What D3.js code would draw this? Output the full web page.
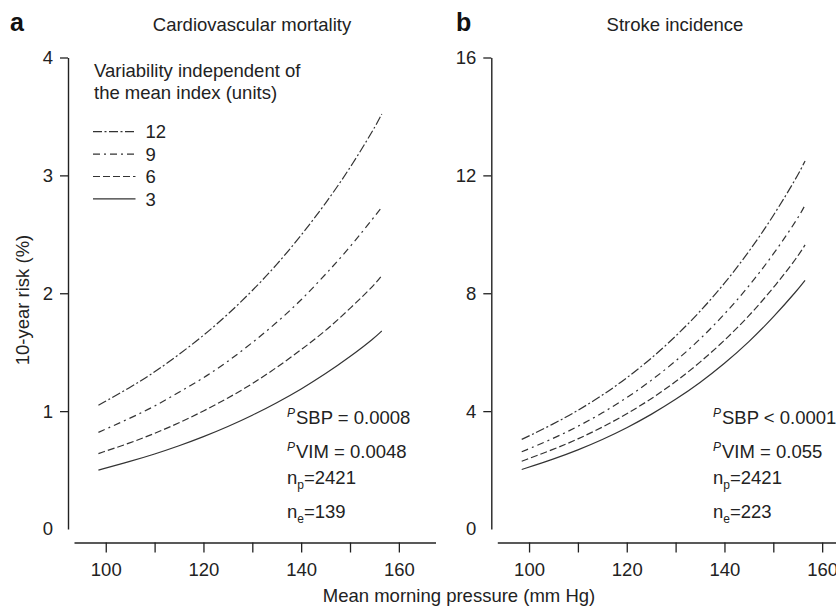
<!DOCTYPE html>
<html>
<head>
<meta charset="utf-8">
<script src="https://cdn.jsdelivr.net/npm/d3@7"></script>
<style>
  body { margin: 0; background: #fff; }
  svg { display: block; font-family: "Liberation Sans", Arial, sans-serif; }
</style>
</head>
<body>
<svg id="chart" width="836" height="607"></svg>
<script>
// mean morning pressure (mm Hg) where the curves were read
var pressure = [98.5, 105, 110, 115, 120, 125, 130, 135, 140, 145, 150, 155, 156.5];

// panel a: cardiovascular mortality, 10-year risk (%)
var cvd12 = [1.05, 1.20, 1.33, 1.48, 1.64, 1.82, 2.02, 2.24, 2.49, 2.76, 3.06, 3.40, 3.52];
var cvd9  = [0.82, 0.94, 1.04, 1.16, 1.28, 1.42, 1.58, 1.75, 1.94, 2.16, 2.39, 2.65, 2.73];
var cvd6  = [0.64, 0.73, 0.81, 0.90, 1.00, 1.11, 1.23, 1.37, 1.52, 1.68, 1.87, 2.07, 2.15];
var cvd3  = [0.50, 0.573, 0.635, 0.705, 0.782, 0.868, 0.963, 1.07, 1.186, 1.316, 1.46, 1.62, 1.68];

// panel b: stroke incidence, 10-year risk (%)
var str12 = [3.04, 3.56, 4.02, 4.53, 5.12, 5.78, 6.53, 7.37, 8.32, 9.40, 10.61, 11.99, 12.49];
var str9  = [2.62, 3.07, 3.48, 3.93, 4.45, 5.03, 5.69, 6.43, 7.28, 8.23, 9.31, 10.53, 10.99];
var str6  = [2.30, 2.70, 3.05, 3.45, 3.90, 4.41, 4.99, 5.65, 6.39, 7.22, 8.17, 9.24, 9.64];
var str3  = [2.02, 2.37, 2.68, 3.03, 3.43, 3.88, 4.39, 4.96, 5.61, 6.34, 7.18, 8.12, 8.44];

var vimLevels = ['12', '9', '6', '3'];
var xTicks = [100, 110, 120, 130, 140, 150, 160];
var xLabels = [100, 120, 140, 160];
var yTicksA = [0, 1, 2, 3, 4];
var yTicksB = [0, 4, 8, 12, 16];

var dashes = { '12': '9,2.5,2,2.5', '9': '7,4,2,4', '6': '7,3', '3': null };

var svg = d3.select('#chart');
var FS = 18.5;
var ink = '#222';

function panel(opt) {
  var x = d3.scaleLinear().domain([93.5, 167.5]).range([opt.x0, opt.x0 + 361.5]);
  var y = d3.scaleLinear().domain([0, opt.ymax]).range([529, 57.5]);
  var g = svg.append('g');

  // y axis
  var ya = g.append('g')
    .attr('transform', 'translate(' + opt.yx + ',0)')
    .call(d3.axisLeft(y).tickValues(opt.yticks).tickFormat(d3.format('d'))
      .tickSize(8).tickPadding(7).tickSizeOuter(0));
  ya.select('.domain').attr('stroke', ink).attr('stroke-width', 1.4);
  ya.selectAll('.tick line').attr('stroke', ink).attr('stroke-width', 1.3)
    .filter(function(d) { return d === 0; }).remove();
  ya.selectAll('.tick text').attr('font-size', FS).attr('fill', ink);

  // x axis
  var xa = g.append('g')
    .attr('transform', 'translate(0,542.5)')
    .call(d3.axisBottom(x).tickValues(xTicks).tickSize(10).tickPadding(10.5).tickSizeOuter(0)
      .tickFormat(function(d) { return xLabels.indexOf(d) >= 0 ? d : ''; }));
  xa.select('.domain').attr('stroke', ink).attr('stroke-width', 1.4);
  xa.selectAll('.tick line').attr('stroke', ink).attr('stroke-width', 1.3);
  xa.selectAll('.tick text').attr('font-size', FS).attr('fill', ink);

  ya.attr('font-family', null).attr('font-size', null);
  xa.attr('font-family', null).attr('font-size', null);

  // curves
  var line = d3.line()
    .x(function(d) { return x(d[0]); })
    .y(function(d) { return y(d[1]); })
    .curve(d3.curveBasis);

  g.selectAll('path.curve')
    .data(opt.series)
    .enter()
    .append('path')
    .attr('class', 'curve')
    .attr('fill', 'none')
    .attr('stroke', '#333')
    .attr('stroke-width', 1.2)
    .attr('stroke-dasharray', function(d) { return dashes[d.level]; })
    .attr('d', function(d) { return line(pressure.map(function(p, i) { return [p, d.values[i]]; })); });

  // panel letter and title
  g.append('text').attr('x', opt.letterX).attr('y', 30.5)
    .attr('font-size', 25).attr('font-weight', 'bold').attr('fill', '#111')
    .text(opt.letter);
  g.append('text').attr('x', opt.titleX).attr('y', 31)
    .attr('text-anchor', 'middle').attr('font-size', FS).attr('fill', ink)
    .text(opt.title);

  // statistics
  var ax = opt.statX;
  var t1 = g.append('text').attr('x', ax).attr('y', 424).attr('font-size', FS).attr('fill', ink);
  t1.append('tspan').attr('font-size', 12).attr('font-style', 'italic').attr('dy', -7).text('P');
  t1.append('tspan').attr('dy', 7).attr('dx', 1).text(opt.psbp);
  var t2 = g.append('text').attr('x', ax).attr('y', 457.5).attr('font-size', FS).attr('fill', ink);
  t2.append('tspan').attr('font-size', 12).attr('font-style', 'italic').attr('dy', -7).text('P');
  t2.append('tspan').attr('dy', 7).attr('dx', 1).text(opt.pvim);
  var t3 = g.append('text').attr('x', ax).attr('y', 484).attr('font-size', FS).attr('fill', ink);
  t3.append('tspan').text('n');
  t3.append('tspan').attr('font-size', 12).attr('dy', 5).text('p');
  t3.append('tspan').attr('dy', -5).text('=' + opt.np);
  var t4 = g.append('text').attr('x', ax).attr('y', 517.5).attr('font-size', FS).attr('fill', ink);
  t4.append('tspan').text('n');
  t4.append('tspan').attr('font-size', 12).attr('dy', 5).text('e');
  t4.append('tspan').attr('dy', -5).text('=' + opt.ne);
}

panel({
  x0: 74, yx: 68, ymax: 4, yticks: yTicksA,
  letter: 'a', letterX: 10, title: 'Cardiovascular mortality', titleX: 252,
  series: [
    { level: '12', values: cvd12 }, { level: '9', values: cvd9 },
    { level: '6', values: cvd6 }, { level: '3', values: cvd3 }
  ],
  statX: 287, psbp: 'SBP = 0.0008', pvim: 'VIM = 0.0048', np: '2421', ne: '139'
});

panel({
  x0: 497.3, yx: 491.3, ymax: 16, yticks: yTicksB,
  letter: 'b', letterX: 456, title: 'Stroke incidence', titleX: 675,
  series: [
    { level: '12', values: str12 }, { level: '9', values: str9 },
    { level: '6', values: str6 }, { level: '3', values: str3 }
  ],
  statX: 713, psbp: 'SBP < 0.0001', pvim: 'VIM = 0.055', np: '2421', ne: '223'
});

// legend
var legend = svg.append('g');
legend.append('text').attr('x', 94).attr('y', 76.5).attr('font-size', FS).attr('fill', ink)
  .text('Variability independent of');
legend.append('text').attr('x', 94).attr('y', 99).attr('font-size', FS).attr('fill', ink)
  .text('the mean index (units)');
var items = legend.selectAll('g.item')
  .data(vimLevels)
  .enter()
  .append('g')
  .attr('class', 'item')
  .attr('transform', function(d, i) { return 'translate(0,' + (131.7 + i * 22.4) + ')'; });
items.append('line')
  .attr('x1', 93).attr('x2', 135.5)
  .attr('stroke', '#333').attr('stroke-width', 1.2)
  .attr('stroke-dasharray', function(d) { return dashes[d]; });
items.append('text')
  .attr('x', 145.5).attr('dy', '0.36em')
  .attr('font-size', FS).attr('fill', ink)
  .text(function(d) { return d; });

// shared axis titles
svg.append('text')
  .attr('transform', 'translate(29,300) rotate(-90)')
  .attr('text-anchor', 'middle').attr('font-size', FS).attr('fill', ink)
  .text('10-year risk (%)');
svg.append('text')
  .attr('x', 459).attr('y', 602)
  .attr('text-anchor', 'middle').attr('font-size', FS).attr('fill', ink)
  .text('Mean morning pressure (mm Hg)');
</script>
</body>
</html>
